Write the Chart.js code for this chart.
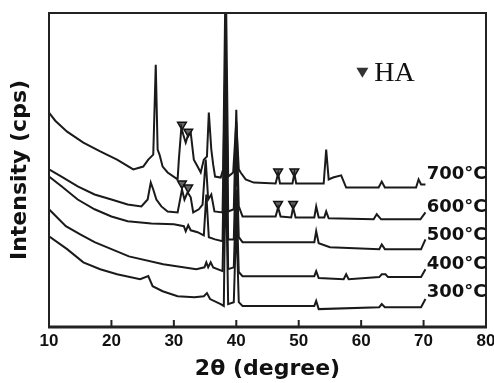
<!DOCTYPE html>
<html>
<head>
<meta charset="utf-8">
<script src="https://cdn.jsdelivr.net/npm/chart.js@4"></script>
<style>
  html, body { margin: 0; padding: 0; background: #fff; }
  #wrap { width: 494px; height: 383px; }
</style>
</head>
<body>
<div id="wrap"><canvas id="xrdChart"></canvas></div>
<script>
// 2theta positions and offset intensities, one pair per temperature
const theta700 = [10, 11, 12.9, 15.5, 18.2, 20.9, 23.5, 25.1, 25.9, 26.7, 27.1, 27.4, 27.7, 28.2, 29, 30.6, 30.8, 31.2, 31.5, 31.9, 32.3, 32.7, 33.2, 33.8, 34.3, 34.8, 35.3, 35.6, 36, 36.3, 36.6, 37.5, 37.9, 38.3, 38.7, 39.5, 40, 40.4, 40.7, 41.5, 42.8, 46.3, 46.7, 47, 49, 49.3, 49.6, 54, 54.4, 54.8, 55.5, 56.8, 57.6, 62.8, 63.3, 63.8, 68.8, 69.2, 69.6, 70.3];
const cps700   = [68.3, 65.7, 62.2, 58.7, 55.9, 53.3, 50.2, 51.1, 53.3, 54.9, 83.5, 56.5, 54.9, 51.1, 49.2, 47.0, 53.3, 63.5, 61.3, 58.7, 61.3, 61.9, 53.3, 51.1, 49.2, 53.3, 54.3, 68.3, 56.5, 51.7, 47.9, 47.6, 50.2, 115, 47.9, 49.2, 65.4, 50.2, 49.2, 47.0, 46.0, 45.7, 48.9, 45.7, 45.7, 48.9, 45.7, 45.7, 56.5, 47.0, 47.6, 48.3, 44.4, 44.4, 46.3, 44.4, 44.4, 47.0, 45.4, 45.4];

const theta600 = [10, 12, 14.6, 17.3, 20, 22.6, 24.8, 25.8, 26.3, 26.7, 27.2, 28, 29, 30.6, 31, 31.3, 31.7, 32.2, 32.7, 33.1, 34, 34.6, 35.1, 35.5, 36, 36.5, 37.8, 38.3, 38.7, 39.6, 40, 40.4, 41, 46.3, 46.7, 47.1, 48.8, 49.1, 49.5, 52.5, 52.8, 53.2, 54.1, 54.4, 54.8, 62, 62.5, 63.2, 69.5, 70.3];
const cps600   = [50.2, 47.9, 44.8, 42.2, 40.6, 39.0, 38.4, 40.6, 46.0, 43.8, 40.6, 38.4, 36.8, 36.5, 40.6, 43.8, 40.6, 42.9, 41.3, 36.5, 37.5, 39.0, 53.3, 40.6, 42.2, 36.8, 36.5, 91.4, 36.8, 37.5, 69.2, 38.4, 35.2, 35.2, 38.1, 35.2, 34.9, 38.1, 34.9, 34.9, 38.4, 34.9, 34.9, 36.8, 34.6, 34.3, 35.9, 34.3, 34.3, 36.5];

const theta500 = [10, 12, 14.6, 17.3, 20, 22.6, 26.4, 30, 31.6, 31.9, 32.3, 32.7, 33.8, 34.8, 35.2, 35.6, 36.6, 37.8, 38.3, 38.7, 39.6, 40, 40.4, 41, 52.5, 52.8, 53.2, 55, 62.9, 63.3, 63.8, 69.6, 70.3];
const cps500   = [47.9, 44.8, 40.6, 37.5, 35.2, 33.7, 33.0, 32.7, 32.1, 30.5, 32.4, 30.8, 30.2, 29.2, 42.2, 28.6, 27.9, 27.3, 85.1, 27.9, 27.9, 56.5, 28.6, 27.0, 27.0, 30.5, 26.7, 25.4, 24.8, 26.3, 24.8, 24.8, 27.9];

const theta400 = [10, 12.7, 15, 17.3, 22.8, 28.3, 33.6, 34.9, 35.2, 35.5, 35.9, 36.3, 37.8, 38.3, 38.7, 39.6, 40, 40.4, 41, 52.5, 52.8, 53.2, 57.2, 57.6, 58, 62.9, 63.3, 63.9, 64.3, 69.6, 70.3];
const cps400   = [37.5, 32.1, 29.5, 27.0, 22.5, 20.0, 18.4, 19.0, 20.6, 19.0, 20.6, 19.0, 17.8, 66.0, 18.4, 19.0, 43.8, 17.5, 16.2, 16.2, 17.8, 15.6, 15.2, 16.8, 15.2, 15.9, 16.8, 16.8, 15.9, 15.9, 18.4];

const theta300 = [10, 12.9, 15.5, 18.2, 20.9, 24.6, 25.9, 26.6, 28.2, 30.6, 33.3, 34.8, 35.3, 35.8, 37.5, 38, 38.3, 38.7, 39.6, 40, 40.4, 41, 52.5, 52.8, 53.2, 62.9, 63.3, 63.8, 69.6, 70.3];
const cps300   = [28.9, 24.8, 20.6, 18.4, 16.8, 15.2, 16.2, 13.0, 11.4, 9.8, 9.5, 9.8, 10.8, 8.9, 7.3, 6.7, 53.3, 7.3, 7.9, 34.3, 7.9, 6.7, 6.7, 8.3, 5.7, 6.3, 7.3, 6.3, 6.3, 8.9];

// HA reflections marked with triangles
const haTheta = [31.3, 32.3, 46.7, 49.3, 31.3, 32.3, 46.7, 49.1];
const haLevel = [64.4, 62.2, 49.5, 49.5, 45.7, 44.4, 39.2, 39.2];

const tempLabels = ['700°C', '600°C', '500°C', '400°C', '300°C'];
const labelLevels = [48.6, 38.1, 29.2, 20.0, 11.1];
const xTicks = [10, 20, 30, 40, 50, 60, 70, 80];

const toPoints = (xs, ys) => xs.map((x, i) => ({ x: x, y: ys[i] }));

const traceStyle = {
  borderColor: '#1a1a1a',
  borderWidth: 2,
  pointRadius: 0,
  tension: 0,
  fill: false
};

const decorations = {
  id: 'decorations',
  afterDraw(chart) {
    const { ctx, chartArea: a, scales: { x, y } } = chart;
    ctx.save();
    ctx.strokeStyle = '#222';
    ctx.lineWidth = 2;
    ctx.beginPath();
    ctx.moveTo(a.left, a.bottom);
    ctx.lineTo(a.left, a.top);
    ctx.lineTo(a.right, a.top);
    ctx.lineTo(a.right, a.bottom);
    ctx.stroke();
    ctx.lineWidth = 3;
    ctx.beginPath();
    ctx.moveTo(a.left - 1, a.bottom);
    ctx.lineTo(a.right + 1, a.bottom);
    ctx.stroke();

    // small inward ticks
    ctx.lineWidth = 2;
    xTicks.slice(1, -1).forEach(v => {
      const px = x.getPixelForValue(v);
      ctx.beginPath();
      ctx.moveTo(px, a.bottom);
      ctx.lineTo(px, a.bottom - 7);
      ctx.stroke();
    });

    // temperature labels
    ctx.fillStyle = '#111';
    ctx.font = 'bold 18px "DejaVu Sans"';
    ctx.textAlign = 'left';
    ctx.textBaseline = 'middle';
    tempLabels.forEach((t, i) => {
      ctx.fillText(t, x.getPixelForValue(70.5), y.getPixelForValue(labelLevels[i]));
    });

    // HA key
    const kx = x.getPixelForValue(60.2);
    const ky = y.getPixelForValue(81);
    ctx.fillStyle = '#333';
    ctx.beginPath();
    ctx.moveTo(kx - 6, ky - 5);
    ctx.lineTo(kx + 6, ky - 5);
    ctx.lineTo(kx, ky + 5);
    ctx.closePath();
    ctx.fill();
    ctx.fillStyle = '#111';
    ctx.font = '28px "Liberation Serif"';
    ctx.fillText('HA', x.getPixelForValue(62.1), ky + 1);
    ctx.restore();
  }
};

new Chart(document.getElementById('xrdChart'), {
  type: 'line',
  data: {
    datasets: [
      { label: '700°C', data: toPoints(theta700, cps700), ...traceStyle },
      { label: '600°C', data: toPoints(theta600, cps600), ...traceStyle },
      { label: '500°C', data: toPoints(theta500, cps500), ...traceStyle },
      { label: '400°C', data: toPoints(theta400, cps400), ...traceStyle },
      { label: '300°C', data: toPoints(theta300, cps300), ...traceStyle },
      {
        label: 'HA',
        data: toPoints(haTheta, haLevel),
        showLine: false,
        pointStyle: 'triangle',
        pointRotation: 180,
        pointRadius: 5,
        backgroundColor: '#666',
        borderColor: '#111',
        borderWidth: 1.5
      }
    ]
  },
  options: {
    responsive: true,
    maintainAspectRatio: false,
    animation: false,
    layout: { padding: { left: 7, right: 8, top: 13, bottom: 0 } },
    plugins: {
      legend: { display: false },
      tooltip: { enabled: false }
    },
    scales: {
      x: {
        type: 'linear',
        min: 10,
        max: 80,
        grid: { display: false },
        border: { display: false },
        afterBuildTicks: s => { s.ticks = xTicks.map(v => ({ value: v })); },
        afterFit: s => { s.height = 56; s.paddingLeft = 0; s.paddingRight = 0; },
        ticks: {
          color: '#111',
          padding: -4,
          maxRotation: 0,
          font: { family: '"Liberation Sans"', size: 17, weight: 'bold' }
        },
        title: {
          display: true,
          text: '2θ (degree)',
          color: '#111',
          padding: { top: 0, bottom: 1 },
          font: { family: '"DejaVu Sans"', size: 22, weight: 'bold' }
        }
      },
      y: {
        min: 0,
        max: 100,
        grid: { display: false },
        border: { display: false },
        ticks: { display: false },
        afterFit: s => { s.width = 42; },
        title: {
          display: true,
          text: 'Intensity (cps)',
          color: '#111',
          padding: { top: 0, bottom: 0 },
          font: { family: '"DejaVu Sans"', size: 22, weight: 'bold' }
        }
      }
    }
  },
  plugins: [decorations]
});
</script>
</body>
</html>
